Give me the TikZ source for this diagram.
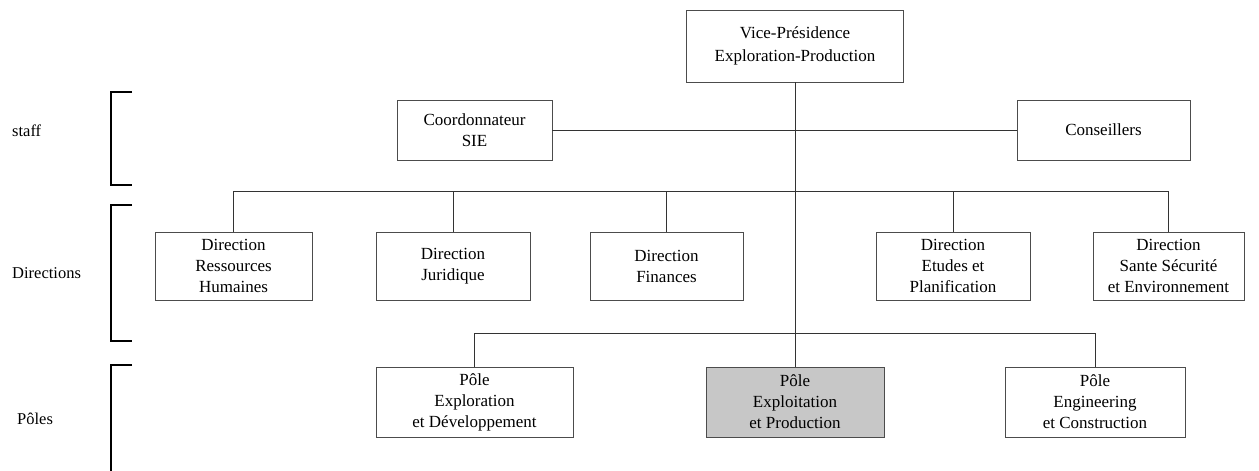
\documentclass[tikz,border=0pt]{standalone}
\usepackage{fontspec}
\setmainfont{Liberation Serif}
\begin{document}
\begin{tikzpicture}[x=1pt,y=-1pt,
  box/.style={draw=black!70,line width=0.8pt,align=center,inner sep=0pt,
    font=\fontsize{17}{21}\selectfont},
  link/.style={draw=black!80,line width=0.8pt},
  bracket/.style={draw=black,line width=1.2pt},
  tag/.style={font=\fontsize{16.5}{20}\selectfont,inner sep=0pt,anchor=west}]
\useasboundingbox (0,0) rectangle (1259,471);

% top level
\node[box,minimum width=217pt,minimum height=72pt,
  font=\fontsize{17}{23}\selectfont] (vp) at (795,46)
  {Vice-Présidence\\Exploration-Production};

% staff
\node[box,minimum width=155pt,minimum height=60pt] (coord) at (474.5,130)
  {Coordonnateur\\SIE};
\node[box,minimum width=173pt,minimum height=60pt] (cons) at (1103.5,130)
  {Conseillers};

% directions
\node[box,minimum width=157pt,minimum height=68pt] (drh) at (233.5,266)
  {Direction\\Ressources\\Humaines};
\node[box,minimum width=154pt,minimum height=68pt] (djur) at (453,266)
  {Direction\\Juridique};
\node[box,minimum width=153pt,minimum height=68pt] (dfin) at (666.5,266)
  {Direction\\Finances};
\node[box,minimum width=154pt,minimum height=68pt] (detu) at (953,266)
  {Direction\\Etudes et\\Planification};
\node[box,minimum width=151pt,minimum height=68pt] (dsse) at (1168.5,266)
  {Direction\\Sante Sécurité\\et Environnement};

% poles
\node[box,minimum width=197pt,minimum height=70pt] (pexp) at (474.5,402)
  {Pôle\\Exploration\\et Développement};
\node[box,fill=black!22,minimum width=178pt,minimum height=70pt] (pepr) at (795,402)
  {Pôle\\Exploitation\\et Production};
\node[box,minimum width=180pt,minimum height=70pt] (peng) at (1095,402)
  {Pôle\\Engineering\\et Construction};

% connectors
\coordinate (dbus) at (0,191);
\coordinate (pbus) at (0,333);
\draw[link] (vp.south) -- (pepr.north);
\draw[link] (coord.east) -- (cons.west);
\draw[link] (drh.north) -- (drh.north |- dbus) -- (dsse.north |- dbus) -- (dsse.north);
\draw[link] (djur.north) -- (djur.north |- dbus);
\draw[link] (dfin.north) -- (dfin.north |- dbus);
\draw[link] (detu.north) -- (detu.north |- dbus);
\draw[link] (pexp.north) -- (pexp.north |- pbus) -- (peng.north |- pbus) -- (peng.north);

% level brackets and labels
\draw[bracket] (132,92) -- (111,92) -- (111,185) -- (132,185);
\draw[bracket] (132,205) -- (111,205) -- (111,341) -- (132,341);
\draw[bracket] (132,365) -- (111,365) -- (111,471);
\node[tag] (lstaff) at (12,131) {staff};
\node[tag] (ldir) at (12,273) {Directions};
\node[tag] (lpol) at (17,419) {Pôles};
\end{tikzpicture}
\end{document}
